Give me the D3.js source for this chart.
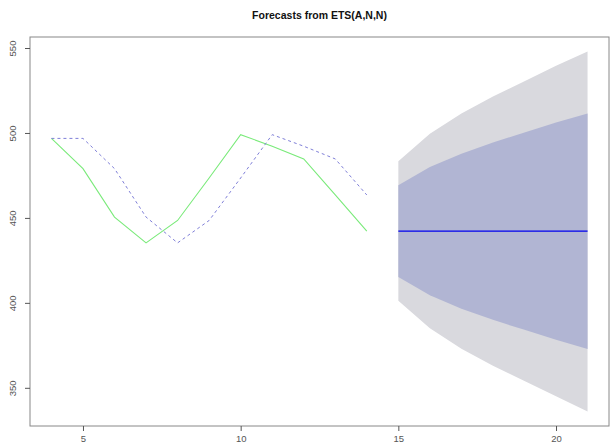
<!DOCTYPE html>
<html>
<head>
<meta charset="utf-8">
<script src="https://cdn.jsdelivr.net/npm/d3@7"></script>
<style>
  body { margin: 0; background: #fff; }
  text { font-family: "Liberation Sans", Arial, sans-serif; }
</style>
</head>
<body>
<svg id="chart"></svg>
<script>
// observed series and one-step fitted values (t = 4..14)
var obsX = [4, 5, 6, 7, 8, 9, 10, 11, 12, 13, 14];
var observed = [496.8, 479.0, 450.5, 435.3, 448.5, 473.5, 499.0, 492.2, 484.7, 463.5, 442.2];
var fitted = [496.8, 496.8, 479.0, 450.5, 435.3, 448.5, 473.5, 499.0, 492.2, 484.7, 463.5];

// forecasts (t = 15..21)
var fcX = [15, 16, 17, 18, 19, 20, 21];
var fcMean = [442.2, 442.2, 442.2, 442.2, 442.2, 442.2, 442.2];
var lo80 = [415.2, 404.5, 396.6, 390.0, 384.1, 378.3, 372.9];
var hi80 = [469.2, 479.9, 487.8, 494.4, 500.3, 506.1, 511.5];
var lo95 = [401.2, 385.0, 373.0, 363.0, 354.0, 345.0, 336.0];
var hi95 = [483.3, 499.5, 511.5, 521.5, 530.5, 539.5, 548.0];

var xTicks = [5, 10, 15, 20];
var yTicks = [350, 400, 450, 500, 550];
var title = "Forecasts from ETS(A,N,N)";

var svgWidth = 614, svgHeight = 447;
var margin = { top: 37, right: 5, bottom: 21, left: 30 };
var width = svgWidth - margin.left - margin.right;
var height = svgHeight - margin.top - margin.bottom;

var svg = d3.select("#chart")
    .attr("width", svgWidth)
    .attr("height", svgHeight);

var g = svg.append("g")
    .attr("transform", "translate(" + margin.left + "," + margin.top + ")");

// R style: data range plus 4% on each side
function pad(ext) {
    var d = (ext[1] - ext[0]) * 0.04;
    return [ext[0] - d, ext[1] + d];
}

var x = d3.scaleLinear()
    .domain(pad([d3.min(obsX), d3.max(fcX)]))
    .range([0, width]);

var allY = observed.concat(fitted, lo95, hi95);
var y = d3.scaleLinear()
    .domain(pad(d3.extent(allY)))
    .range([height, 0]);

var fc = fcX.map(function(d, i) {
    return { x: d, mean: fcMean[i], lo80: lo80[i], hi80: hi80[i], lo95: lo95[i], hi95: hi95[i] };
});

var area95 = d3.area()
    .x(function(d) { return x(d.x); })
    .y0(function(d) { return y(d.lo95); })
    .y1(function(d) { return y(d.hi95); });

var area80 = d3.area()
    .x(function(d) { return x(d.x); })
    .y0(function(d) { return y(d.lo80); })
    .y1(function(d) { return y(d.hi80); });

g.append("path")
    .datum(fc)
    .attr("fill", "#d9d9de")
    .attr("d", area95);

g.append("path")
    .datum(fc)
    .attr("fill", "#b1b5d3")
    .attr("d", area80);

g.append("path")
    .datum(fc)
    .attr("fill", "none")
    .attr("stroke", "#0000ee")
    .attr("stroke-width", 1.2)
    .attr("d", d3.line()
        .x(function(d) { return x(d.x); })
        .y(function(d) { return y(d.mean); }));

var obsLine = d3.line()
    .x(function(d, i) { return x(obsX[i]); })
    .y(function(d) { return y(d); });

g.append("path")
    .datum(observed)
    .attr("fill", "none")
    .attr("stroke", "#7aea7a")
    .attr("stroke-width", 1.1)
    .attr("d", obsLine);

g.append("path")
    .datum(fitted)
    .attr("fill", "none")
    .attr("stroke", "#7f7fd8")
    .attr("stroke-width", 1)
    .attr("stroke-dasharray", "3,3")
    .attr("d", obsLine);

// frame
g.append("rect")
    .attr("width", width)
    .attr("height", height)
    .attr("fill", "none")
    .attr("stroke", "#888");

// x axis
var xAxis = g.append("g")
    .attr("transform", "translate(0," + height + ")")
    .call(d3.axisBottom(x).tickValues(xTicks).tickSize(5).tickPadding(4).tickFormat(d3.format("d")));
xAxis.select(".domain").remove();
xAxis.selectAll("line").attr("stroke", "#555");
xAxis.selectAll("text")
    .attr("fill", "#555")
    .attr("font-size", "9.5px")
    .attr("font-family", "Liberation Sans, Arial, sans-serif");

// y axis with rotated labels
var yAxis = g.append("g")
    .call(d3.axisLeft(y).tickValues(yTicks).tickSize(5).tickFormat(d3.format("d")));
yAxis.select(".domain").remove();
yAxis.selectAll("line").attr("stroke", "#555");
yAxis.selectAll("text")
    .attr("fill", "#555")
    .attr("font-size", "9.5px")
    .attr("font-family", "Liberation Sans, Arial, sans-serif")
    .attr("x", null)
    .attr("dy", null)
    .attr("text-anchor", "middle")
    .attr("transform", "translate(-14,0) rotate(-90)");

svg.append("text")
    .attr("x", margin.left + width / 2)
    .attr("y", 19)
    .attr("text-anchor", "middle")
    .attr("font-weight", "bold")
    .attr("font-size", "10.5px")
    .attr("fill", "#111")
    .text(title);
</script>
</body>
</html>
